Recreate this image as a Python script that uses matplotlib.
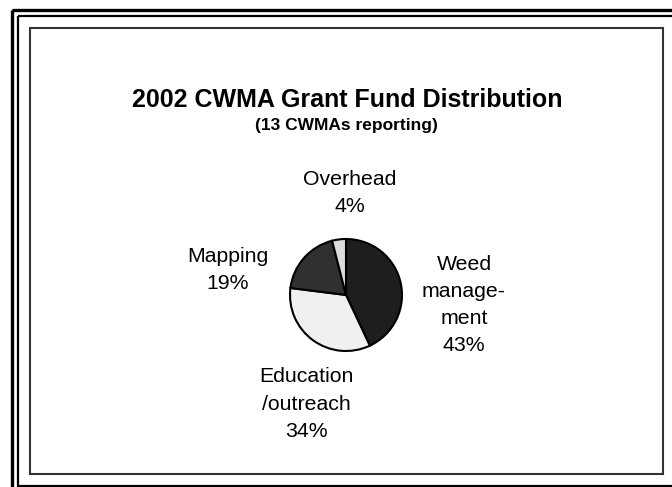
import matplotlib
matplotlib.use("Agg")
import matplotlib.pyplot as plt
from matplotlib.patches import Rectangle

plt.rcParams['font.family'] = ['Liberation Sans', 'DejaVu Sans']

# Data
categories = ["Weed\nmanage-\nment", "Education\n/outreach", "Mapping", "Overhead"]
values = [43, 34, 19, 4]
slice_colors = ["#1e1e1e", "#f0f0f0", "#303030", "#dcdcdc"]
title = "2002 CWMA Grant Fund Distribution"
subtitle = "(13 CWMAs reporting)"

W, H = 672, 487
fig = plt.figure(figsize=(W / 100, H / 100), dpi=100)

# background axes in pixel coordinates
bg = fig.add_axes([0, 0, 1, 1])
bg.set_xlim(0, W)
bg.set_ylim(H, 0)
bg.axis("off")

# outer double frame
bg.add_patch(Rectangle((12, 10), W + 20, H + 20, fill=False, lw=2.4, ec="black"))
bg.add_patch(Rectangle((17.5, 15.5), W + 20, 470, fill=False, lw=1.6, ec="black"))
# inner box
bg.add_patch(Rectangle((30, 28), 633, 446, fill=False, lw=1.5, ec="#333333"))

# titles
bg.text(347, 107, title, ha="center", va="baseline", fontsize=18, fontweight="bold")
bg.text(346, 130, subtitle, ha="center", va="baseline", fontsize=12.5, fontweight="bold")

# pie
cx, cy, r = 346, 295, 56
ax = fig.add_axes([(cx - r) / W, (H - cy - r) / H, 2 * r / W, 2 * r / H])
ax.pie(values, colors=slice_colors, startangle=90, counterclock=False,
       wedgeprops=dict(edgecolor="black", linewidth=1.5))
ax.set_xlim(-1, 1)
ax.set_ylim(-1, 1)
ax.set_aspect("auto")
ax.axis("off")

# labels
label_pos = [(464, 305), (306, 404), (228, 270), (350, 193)]
for name, v, (lx, ly) in zip(categories, values, label_pos):
    bg.text(lx, ly, f"{name}\n{v}%", ha="center", va="center", fontsize=15.3,
            linespacing=1.55)

fig.savefig("out.png", dpi=100)
